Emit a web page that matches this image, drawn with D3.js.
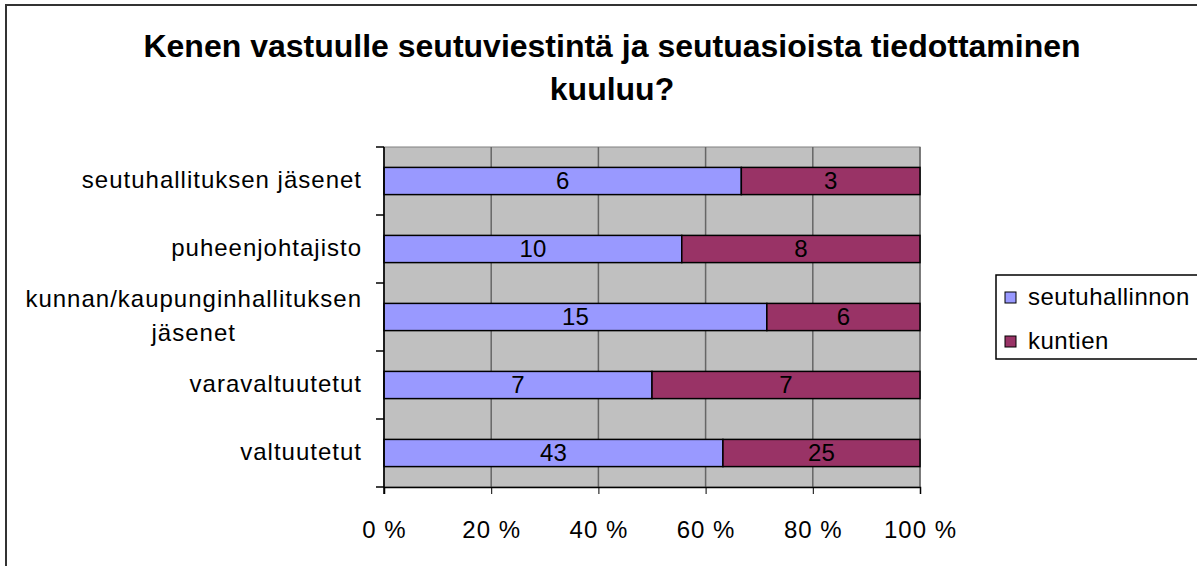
<!DOCTYPE html>
<html>
<head>
<meta charset="utf-8">
<script src="https://cdn.jsdelivr.net/npm/d3@7"></script>
<style>
  body { margin: 0; background: #fff; }
  svg { display: block; font-family: "Liberation Sans", Arial, sans-serif; }
</style>
</head>
<body>
<div id="chart"></div>
<script>
// chart data
const categories = [
    'seutuhallituksen jäsenet',
    'puheenjohtajisto',
    'kunnan/kaupunginhallituksen jäsenet',
    'varavaltuutetut',
    'valtuutetut'
];
const seutuhallinnon = [6, 10, 15, 7, 43];
const kuntien = [3, 8, 6, 7, 25];
const seriesNames = ['seutuhallinnon', 'kuntien'];
const seriesColors = ['#9999FF', '#993366'];
const xTicks = [0, 0.2, 0.4, 0.6, 0.8, 1];
const titleLines = ['Kenen vastuulle seutuviestintä ja seutuasioista tiedottaminen', 'kuuluu?'];

const width = 1197;
const height = 566;
const plot = { left: 384, right: 920, top: 147, bottom: 487 };

const svg = d3.select('#chart')
    .append('svg')
    .attr('width', width)
    .attr('height', height);

// chart frame (runs off the right and bottom edges)
svg.append('rect')
    .attr('x', 6).attr('y', 5)
    .attr('width', 1400).attr('height', 800)
    .attr('fill', '#fff')
    .attr('stroke', '#333')
    .attr('stroke-width', 2);

// title
svg.append('text')
    .attr('x', 612).attr('y', 57)
    .attr('text-anchor', 'middle')
    .attr('font-size', 32)
    .attr('font-weight', 'bold')
    .selectAll('tspan')
    .data(titleLines)
    .join('tspan')
    .attr('x', 612)
    .attr('dy', (d, i) => i === 0 ? 0 : 43)
    .text(d => d);

const x = d3.scaleLinear().domain([0, 1]).range([plot.left, plot.right]);
const y = d3.scaleBand().domain(categories).range([plot.top, plot.bottom]).paddingInner(0.6).paddingOuter(0.3);
const yBands = d3.scaleBand().domain(categories).range([plot.top, plot.bottom]);

// plot background
svg.append('rect')
    .attr('x', plot.left).attr('y', plot.top)
    .attr('width', plot.right - plot.left)
    .attr('height', plot.bottom - plot.top)
    .attr('fill', '#C0C0C0')
    .attr('stroke', '#808080')
    .attr('stroke-width', 1);

// vertical gridlines
svg.append('g')
    .selectAll('line')
    .data(xTicks)
    .join('line')
    .attr('x1', d => x(d)).attr('x2', d => x(d))
    .attr('y1', plot.top).attr('y2', plot.bottom)
    .attr('stroke', '#666')
    .attr('stroke-width', 1.5);

// stacked data as shares
const rows = categories.map((c, i) => {
    const total = seutuhallinnon[i] + kuntien[i];
    return { cat: c, vals: [seutuhallinnon[i], kuntien[i]], total };
});

const segs = [];
rows.forEach(r => {
    let acc = 0;
    r.vals.forEach((v, j) => {
        segs.push({ cat: r.cat, s: j, v, x0: acc / r.total, x1: (acc + v) / r.total });
        acc += v;
    });
});

svg.append('g')
    .selectAll('rect')
    .data(segs)
    .join('rect')
    .attr('x', d => x(d.x0))
    .attr('y', d => y(d.cat))
    .attr('width', d => x(d.x1) - x(d.x0))
    .attr('height', y.bandwidth())
    .attr('fill', d => seriesColors[d.s])
    .attr('stroke', '#000')
    .attr('stroke-width', 1.5);

// value labels
svg.append('g')
    .selectAll('text')
    .data(segs)
    .join('text')
    .attr('x', d => (x(d.x0) + x(d.x1)) / 2)
    .attr('y', d => y(d.cat) + y.bandwidth() / 2 + 8)
    .attr('text-anchor', 'middle')
    .attr('font-size', 24)
    .text(d => d.v);

// x axis
const xAxis = svg.append('g')
    .attr('transform', `translate(0,${plot.bottom})`)
    .call(d3.axisBottom(x).tickValues(xTicks).tickSize(7).tickPadding(27)
        .tickFormat(d => Math.round(d * 100) + ' %'));
xAxis.select('.domain').attr('stroke', '#000').attr('stroke-width', 1.5);
xAxis.selectAll('.tick line').attr('stroke', '#000');
xAxis.selectAll('.tick text')
    .attr('font-size', 24)
    .attr('letter-spacing', 1)
    .attr('font-family', '"Liberation Sans", Arial, sans-serif')
    .attr('fill', '#000');

// y axis: ticks at band boundaries
const yEdges = categories.map(c => yBands(c)).concat([plot.bottom]);
svg.append('line')
    .attr('x1', plot.left).attr('x2', plot.left)
    .attr('y1', plot.top).attr('y2', plot.bottom + 7)
    .attr('stroke', '#000').attr('stroke-width', 1.5);
svg.append('g')
    .selectAll('line')
    .data(yEdges)
    .join('line')
    .attr('x1', plot.left - 8).attr('x2', plot.left)
    .attr('y1', d => d).attr('y2', d => d)
    .attr('stroke', '#000').attr('stroke-width', 1.5);

// category labels
const catLabels = svg.append('g');
categories.forEach(c => {
    const cy = yBands(c) + yBands.bandwidth() / 2;
    const t = catLabels.append('text')
        .attr('font-size', 24)
        .attr('letter-spacing', 1)
        .attr('text-anchor', 'end');
    if (c.startsWith('kunnan')) {
        const first = t.append('tspan').attr('x', 362).attr('y', cy - 10).text('kunnan/kaupunginhallituksen');
        const w = first.node().getComputedTextLength();
        t.append('tspan').attr('x', 362 - w / 2).attr('y', cy + 24)
            .attr('text-anchor', 'middle').text('jäsenet');
    } else {
        t.attr('x', 362).attr('y', cy + 7).text(c);
    }
});

// legend
const legend = svg.append('g').attr('transform', 'translate(996,275)');
legend.append('rect')
    .attr('width', 300).attr('height', 84)
    .attr('fill', '#fff')
    .attr('stroke', '#000')
    .attr('stroke-width', 1.5);
const items = legend.selectAll('g')
    .data(seriesNames)
    .join('g')
    .attr('transform', (d, i) => `translate(9,${17 + i * 44})`);
items.append('rect')
    .attr('x', 0).attr('y', 0)
    .attr('width', 11).attr('height', 11)
    .attr('fill', (d, i) => seriesColors[i])
    .attr('stroke', '#000');
items.append('text')
    .attr('x', 23).attr('y', 13)
    .attr('font-size', 24)
    .attr('letter-spacing', 0.5)
    .text(d => d);
</script>
</body>
</html>
